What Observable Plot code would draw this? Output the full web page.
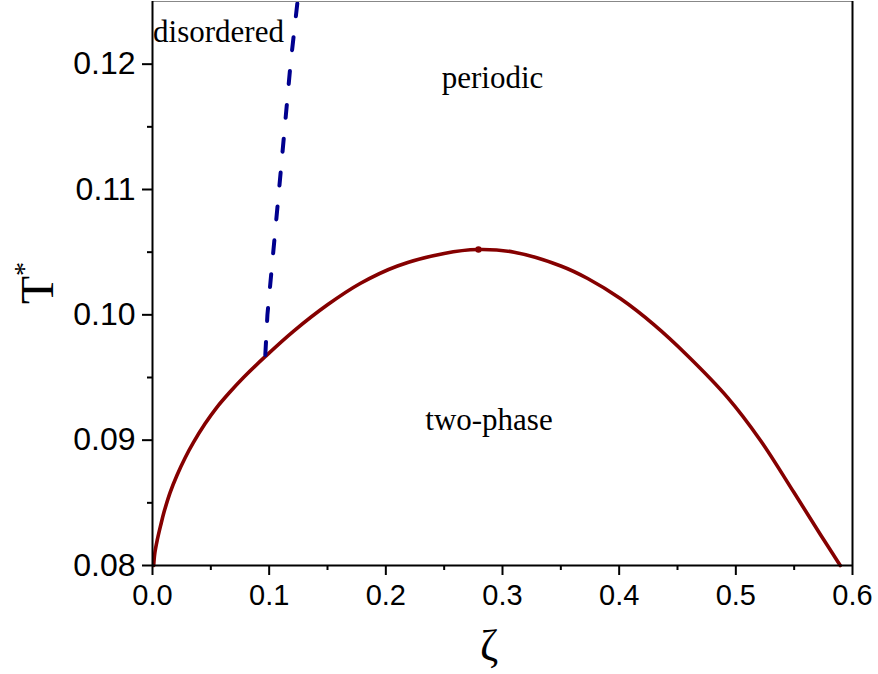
<!DOCTYPE html>
<html>
<head>
<meta charset="utf-8">
<script src="https://cdn.jsdelivr.net/npm/d3@7"></script>
<script src="https://cdn.jsdelivr.net/npm/@observablehq/plot@0.6"></script>
<style>
  html, body { margin: 0; padding: 0; background: white; }
  #chart svg { display: block; }
</style>
</head>
<body>
<div id="chart"></div>
<script>
// Coexistence curve (two-phase boundary)
const coexZeta = [0.001, 0.002, 0.004, 0.007, 0.010, 0.015, 0.021, 0.028, 0.035, 0.045, 0.055, 0.066, 0.078, 0.097, 0.121, 0.150, 0.178, 0.210, 0.250, 0.279, 0.310, 0.350, 0.373, 0.401, 0.430, 0.458, 0.493, 0.521, 0.550, 0.573, 0.5895];
const coexT    = [0.0800, 0.0810, 0.0820, 0.0832, 0.0843, 0.0858, 0.0872, 0.0886, 0.0898, 0.0913, 0.0926, 0.0938, 0.0950, 0.0967, 0.0987, 0.1008, 0.1025, 0.1039, 0.1049, 0.10521, 0.1050, 0.1039, 0.1029, 0.1013, 0.0992, 0.0968, 0.0934, 0.0900, 0.0858, 0.0824, 0.0800];

// Disordered / periodic boundary (dashed)
const orderZeta = [0.0967, 0.0985, 0.1085, 0.1183, 0.1243];
const orderT    = [0.0968, 0.1000, 0.1100, 0.1200, 0.1250];

// Critical point
const critZeta = [0.2794];
const critT    = [0.10521];

// Region labels
const regionNames = ["disordered", "periodic", "two-phase"];
const regionZeta  = [0.0566, 0.2914, 0.2884];
const regionT     = [0.1226, 0.1189, 0.0916];

// Ticks
const xTicks = [0, 0.1, 0.2, 0.3, 0.4, 0.5, 0.6];
const xMinor = [0.05, 0.15, 0.25, 0.35, 0.45, 0.55];
const yTicks = [0.08, 0.09, 0.10, 0.11, 0.12];
const yMinor = [0.085, 0.095, 0.105, 0.115];

const coex = coexZeta.map((z, i) => ({z, t: coexT[i]}));
const order = orderZeta.map((z, i) => ({z, t: orderT[i]}));
const crit = critZeta.map((z, i) => ({z, t: critT[i]}));
const regions = regionNames.map((n, i) => ({n, z: regionZeta[i], t: regionT[i]}));

const red = "#850000";
const blue = "#00008f";
const tickFont = "Liberation Sans, Arial, sans-serif";
const serif = "Liberation Serif, Times New Roman, serif";

const chart = Plot.plot({
  width: 878,
  height: 674,
  marginLeft: 152,
  marginRight: 26,
  marginTop: 1,
  marginBottom: 109,
  style: {fontFamily: tickFont, background: "white", color: "black"},
  x: {domain: [0, 0.6]},
  y: {domain: [0.08, 0.125]},
  marks: [
    Plot.line(coex, {x: "z", y: "t", stroke: red, strokeWidth: 3.6, curve: "catmull-rom", strokeLinejoin: "round"}),
    Plot.line(order, {x: "z", y: "t", stroke: blue, strokeWidth: 4, strokeDasharray: "13,21", strokeLinecap: "round", clip: true}),
    Plot.dot(crit, {x: "z", y: "t", r: 3.2, fill: red, stroke: "none"}),
    Plot.text(regions, {x: "z", y: "t", text: "n", fontFamily: serif, fontSize: 31, fill: "black", lineAnchor: "middle", textAnchor: "middle"}),
    // frame: top thin grey, right black
    Plot.ruleY([0.125], {stroke: "#888", strokeWidth: 1}),
    Plot.ruleX([0.6], {stroke: "black", strokeWidth: 2}),
    // axes
    Plot.axisX(xMinor, {tickSize: 5, strokeWidth: 2, text: null, label: null}),
    Plot.axisX(xTicks, {tickSize: 10, strokeWidth: 2, tickPadding: 9, fontSize: 29, tickFormat: d3.format(".1f"), label: null}),
    Plot.axisY(yMinor, {tickSize: 5, strokeWidth: 2, text: null, label: null}),
    Plot.axisY(yTicks, {tickSize: 10, strokeWidth: 2, tickPadding: 7, fontSize: 32, tickFormat: d3.format(".2f"), label: null}),
    Plot.ruleY([0.08], {stroke: "black", strokeWidth: 2}),
    Plot.ruleX([0], {stroke: "black", strokeWidth: 2})
  ]
});

const svg = d3.select(chart);
// x-axis label ζ
svg.append("text")
  .attr("x", 489).attr("y", 660)
  .attr("text-anchor", "middle")
  .attr("font-family", serif)
  .attr("font-size", 44)
  .attr("fill", "black")
  .text("ζ");
// y-axis label T*
const tl = svg.append("text")
  .attr("transform", "translate(53,304) rotate(-90)")
  .attr("text-anchor", "start")
  .attr("font-family", serif)
  .attr("font-size", 46)
  .attr("fill", "black");
tl.append("tspan").text("T");
tl.append("tspan").attr("font-size", 28).attr("dy", -20).text("*");

document.getElementById("chart").appendChild(chart);
</script>
</body>
</html>
